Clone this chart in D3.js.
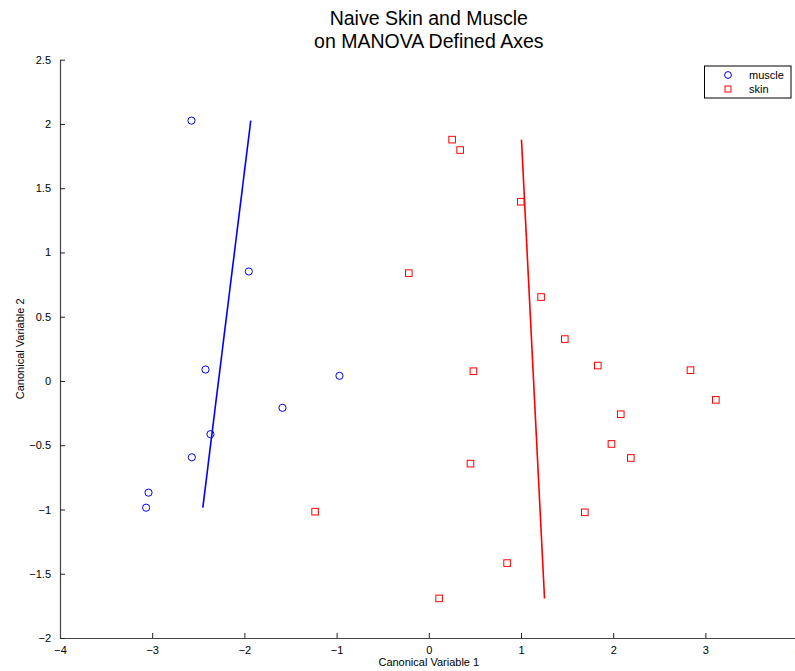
<!DOCTYPE html>
<html>
<head>
<meta charset="utf-8">
<script src="https://cdn.jsdelivr.net/npm/d3@7"></script>
<style>
  body { margin: 0; background: #fff; }
  svg { font-family: "Liberation Sans", Arial, Helvetica, sans-serif; }
</style>
</head>
<body>
<svg width="795" height="671"></svg>
<script>
// canonical scores
const muscleX = [-2.574, -1.952, -2.422, -0.969, -1.587, -2.368, -2.570, -3.040, -3.066];
const muscleY = [2.026, 0.852, 0.089, 0.040, -0.209, -0.414, -0.594, -0.869, -0.986];
const skinX = [0.253, 0.340, 0.998, -0.217, 1.218, 1.475, 1.833, 2.838, 3.113, 2.082, 1.981, 2.191, 1.692, 0.484, 0.452, -1.233, 0.849, 0.112];
const skinY = [1.878, 1.797, 1.395, 0.839, 0.653, 0.326, 0.120, 0.084, -0.147, -0.259, -0.490, -0.599, -1.022, 0.076, -0.643, -1.017, -1.417, -1.692];
// fitted lines (end points)
const muscleLineX = [-2.451, -1.931];
const muscleLineY = [-0.986, 2.026];
const skinLineX = [1.255, 1.005];
const skinLineY = [-1.692, 1.878];

const xTicks = [-4, -3, -2, -1, 0, 1, 2, 3, 4];
const yTicks = [-2, -1.5, -1, -0.5, 0, 0.5, 1, 1.5, 2, 2.5];
const legendNames = ["muscle", "skin"];

const svg = d3.select("svg");
const x = d3.scaleLinear().domain([-4, 4]).range([60, 797.6]);
const y = d3.scaleLinear().domain([-2, 2.5]).range([638, 59.7]);

const fmt = d => d < 0 ? "\u2212" + Math.abs(d) : String(d);

// axes
const xAxis = svg.append("g")
  .attr("transform", `translate(0,${y(-2)})`)
  .call(d3.axisBottom(x).tickValues(xTicks).tickSizeInner(-5).tickSizeOuter(0).tickPadding(10).tickFormat(fmt));
const yAxis = svg.append("g")
  .attr("transform", `translate(${x(-4)},0)`)
  .call(d3.axisLeft(y).tickValues(yTicks).tickSizeInner(-5).tickSizeOuter(0).tickPadding(9).tickFormat(fmt));

[xAxis, yAxis].forEach(a => {
  a.select(".domain").attr("stroke", "#444").attr("stroke-width", 1.2);
  a.selectAll(".tick line").attr("stroke", "#222");
  a.selectAll(".tick text").attr("font-size", 11).attr("fill", "#000")
    .attr("font-family", "Liberation Sans, Arial, sans-serif");
});
xAxis.selectAll(".tick text").attr("dy", "0.5em");

// axis labels
svg.append("text").attr("x", x(0)).attr("y", 666).attr("text-anchor", "middle")
  .attr("font-size", 11).text("Canonical Variable 1");
svg.append("text").attr("transform", `translate(24,${(y(-2) + y(2.5)) / 2}) rotate(-90)`)
  .attr("text-anchor", "middle").attr("font-size", 11).text("Canonical Variable 2");

// title
const title = svg.append("text").attr("text-anchor", "middle").attr("font-size", 19.5);
title.append("tspan").attr("x", x(0)).attr("y", 25).text("Naive Skin and Muscle");
title.append("tspan").attr("x", x(0)).attr("y", 48).text("on MANOVA Defined Axes");

// lines
const line = d3.line().x(d => x(d[0])).y(d => y(d[1]));
svg.append("path").datum(d3.zip(muscleLineX, muscleLineY))
  .attr("d", line).attr("fill", "none").attr("stroke", "#0000ff").attr("stroke-width", 1.6);
svg.append("path").datum(d3.zip(skinLineX, skinLineY))
  .attr("d", line).attr("fill", "none").attr("stroke", "#ff0000").attr("stroke-width", 1.6);

// markers
svg.append("g").selectAll("circle").data(d3.zip(muscleX, muscleY)).enter().append("circle")
  .attr("cx", d => x(d[0])).attr("cy", d => y(d[1])).attr("r", 3.6)
  .attr("fill", "none").attr("stroke", "#0000ff").attr("stroke-width", 1);
svg.append("g").selectAll("rect").data(d3.zip(skinX, skinY)).enter().append("rect")
  .attr("x", d => x(d[0]) - 3.3).attr("y", d => y(d[1]) - 3.3).attr("width", 6.6).attr("height", 6.6)
  .attr("fill", "none").attr("stroke", "#ff0000").attr("stroke-width", 1);

// legend
const lg = svg.append("g");
lg.append("rect").attr("x", 704.5).attr("y", 66).attr("width", 86.5).attr("height", 32)
  .attr("fill", "#fff").attr("stroke", "#000").attr("stroke-width", 1);
lg.append("circle").attr("cx", 728).attr("cy", 75).attr("r", 3.4)
  .attr("fill", "none").attr("stroke", "#0000ff");
lg.append("rect").attr("x", 725).attr("y", 86).attr("width", 6).attr("height", 6)
  .attr("fill", "none").attr("stroke", "#ff0000");
lg.selectAll("text.lbl").data(legendNames).enter().append("text")
  .attr("x", 749).attr("y", (d, i) => 79 + i * 14).attr("font-size", 11).text(d => d);
</script>
</body>
</html>
